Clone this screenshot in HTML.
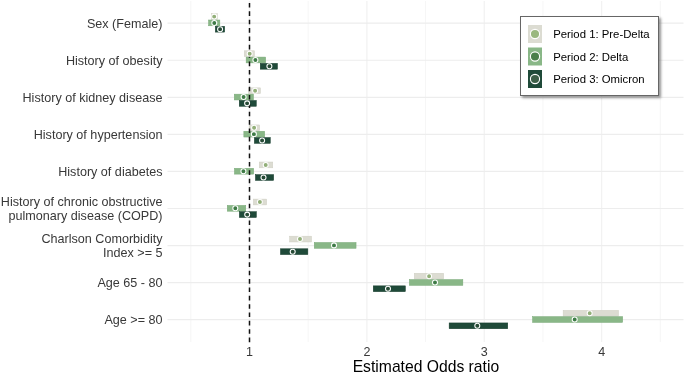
<!DOCTYPE html>
<html><head><meta charset="utf-8"><style>
html,body{margin:0;padding:0;background:#fff;}
body{width:685px;height:374px;overflow:hidden;position:relative;}
svg{position:absolute;left:0;top:0;will-change:transform;}
text{font-family:"Liberation Sans",sans-serif;}
.yl{font-size:12.6px;fill:#383838;text-anchor:end;}
.xt{font-size:12.5px;fill:#383838;text-anchor:middle;}
.xa{font-size:15.7px;fill:#000;text-anchor:middle;}
.lt{font-size:11.35px;fill:#000;}
#leg{position:absolute;left:520px;top:16px;width:137px;height:78px;border:1px solid #666;background:#fff;box-shadow:2px 2px 2.5px rgba(0,0,0,0.4);}
</style></head><body>
<svg width="685" height="374" viewBox="0 0 685 374">
<line x1="190.81" y1="1.0" x2="190.81" y2="342.0" stroke="#f6f6f6" stroke-width="1"/>
<line x1="308.19" y1="1.0" x2="308.19" y2="342.0" stroke="#f6f6f6" stroke-width="1"/>
<line x1="425.56" y1="1.0" x2="425.56" y2="342.0" stroke="#f6f6f6" stroke-width="1"/>
<line x1="542.92" y1="1.0" x2="542.92" y2="342.0" stroke="#f6f6f6" stroke-width="1"/>
<line x1="660.30" y1="1.0" x2="660.30" y2="342.0" stroke="#f6f6f6" stroke-width="1"/>
<line x1="249.50" y1="1.0" x2="249.50" y2="342.0" stroke="#f2f2f2" stroke-width="1.3"/>
<line x1="366.87" y1="1.0" x2="366.87" y2="342.0" stroke="#f2f2f2" stroke-width="1.3"/>
<line x1="484.24" y1="1.0" x2="484.24" y2="342.0" stroke="#f2f2f2" stroke-width="1.3"/>
<line x1="601.61" y1="1.0" x2="601.61" y2="342.0" stroke="#f2f2f2" stroke-width="1.3"/>
<line x1="167.5" y1="23.20" x2="683.5" y2="23.20" stroke="#ededed" stroke-width="1.2"/>
<line x1="167.5" y1="60.26" x2="683.5" y2="60.26" stroke="#ededed" stroke-width="1.2"/>
<line x1="167.5" y1="97.32" x2="683.5" y2="97.32" stroke="#ededed" stroke-width="1.2"/>
<line x1="167.5" y1="134.38" x2="683.5" y2="134.38" stroke="#ededed" stroke-width="1.2"/>
<line x1="167.5" y1="171.44" x2="683.5" y2="171.44" stroke="#ededed" stroke-width="1.2"/>
<line x1="167.5" y1="208.50" x2="683.5" y2="208.50" stroke="#ededed" stroke-width="1.2"/>
<line x1="167.5" y1="245.56" x2="683.5" y2="245.56" stroke="#ededed" stroke-width="1.2"/>
<line x1="167.5" y1="282.62" x2="683.5" y2="282.62" stroke="#ededed" stroke-width="1.2"/>
<line x1="167.5" y1="319.68" x2="683.5" y2="319.68" stroke="#ededed" stroke-width="1.2"/>
<rect x="211.25" y="13.70" width="6.10" height="5.8" fill="#dcdcd2" stroke="#cfcfc4" stroke-width="0.5"/>
<rect x="208.55" y="20.00" width="11.30" height="5.8" fill="#89b787" stroke="#78a877" stroke-width="0.5"/>
<rect x="215.35" y="26.30" width="9.30" height="5.8" fill="#1f4a39" stroke="#143a2a" stroke-width="0.5"/>
<rect x="244.25" y="50.78" width="10.20" height="5.8" fill="#dcdcd2" stroke="#cfcfc4" stroke-width="0.5"/>
<rect x="246.15" y="57.08" width="19.50" height="5.8" fill="#89b787" stroke="#78a877" stroke-width="0.5"/>
<rect x="260.25" y="63.38" width="17.20" height="5.8" fill="#1f4a39" stroke="#143a2a" stroke-width="0.5"/>
<rect x="248.55" y="87.86" width="11.90" height="5.8" fill="#dcdcd2" stroke="#cfcfc4" stroke-width="0.5"/>
<rect x="234.25" y="94.16" width="19.20" height="5.8" fill="#89b787" stroke="#78a877" stroke-width="0.5"/>
<rect x="239.25" y="100.46" width="17.00" height="5.8" fill="#1f4a39" stroke="#143a2a" stroke-width="0.5"/>
<rect x="249.15" y="124.94" width="10.50" height="5.8" fill="#dcdcd2" stroke="#cfcfc4" stroke-width="0.5"/>
<rect x="243.85" y="131.24" width="20.80" height="5.8" fill="#89b787" stroke="#78a877" stroke-width="0.5"/>
<rect x="254.35" y="137.54" width="15.90" height="5.8" fill="#1f4a39" stroke="#143a2a" stroke-width="0.5"/>
<rect x="259.25" y="162.02" width="13.50" height="5.8" fill="#dcdcd2" stroke="#cfcfc4" stroke-width="0.5"/>
<rect x="234.45" y="168.32" width="19.20" height="5.8" fill="#89b787" stroke="#78a877" stroke-width="0.5"/>
<rect x="255.45" y="174.62" width="18.20" height="5.8" fill="#1f4a39" stroke="#143a2a" stroke-width="0.5"/>
<rect x="253.35" y="199.10" width="13.30" height="5.8" fill="#dcdcd2" stroke="#cfcfc4" stroke-width="0.5"/>
<rect x="227.25" y="205.40" width="18.50" height="5.8" fill="#89b787" stroke="#78a877" stroke-width="0.5"/>
<rect x="239.35" y="211.70" width="17.00" height="5.8" fill="#1f4a39" stroke="#143a2a" stroke-width="0.5"/>
<rect x="289.65" y="236.18" width="21.90" height="5.8" fill="#dcdcd2" stroke="#cfcfc4" stroke-width="0.5"/>
<rect x="314.25" y="242.48" width="41.80" height="5.8" fill="#89b787" stroke="#78a877" stroke-width="0.5"/>
<rect x="280.45" y="248.78" width="27.40" height="5.8" fill="#1f4a39" stroke="#143a2a" stroke-width="0.5"/>
<rect x="414.25" y="273.26" width="29.40" height="5.8" fill="#dcdcd2" stroke="#cfcfc4" stroke-width="0.5"/>
<rect x="409.35" y="279.56" width="53.50" height="5.8" fill="#89b787" stroke="#78a877" stroke-width="0.5"/>
<rect x="373.25" y="285.86" width="32.10" height="5.8" fill="#1f4a39" stroke="#143a2a" stroke-width="0.5"/>
<rect x="563.15" y="310.34" width="55.40" height="5.8" fill="#dcdcd2" stroke="#cfcfc4" stroke-width="0.5"/>
<rect x="532.55" y="316.64" width="90.10" height="5.8" fill="#89b787" stroke="#78a877" stroke-width="0.5"/>
<rect x="449.15" y="322.94" width="58.60" height="5.8" fill="#1f4a39" stroke="#143a2a" stroke-width="0.5"/>
<line x1="249.5" y1="3.0" x2="249.5" y2="342.2" stroke="#111" stroke-width="1.5" stroke-dasharray="4.6 3.765"/>
<circle cx="214.2" cy="16.60" r="2.5" fill="#92af78" stroke="#fff" stroke-width="1.05"/>
<circle cx="214.3" cy="22.90" r="2.5" fill="#3e7b46" stroke="#fff" stroke-width="1.05"/>
<circle cx="220.1" cy="29.20" r="2.5" fill="#274b36" stroke="#fff" stroke-width="1.05"/>
<circle cx="249.7" cy="53.68" r="2.5" fill="#92af78" stroke="#fff" stroke-width="1.05"/>
<circle cx="255.4" cy="59.98" r="2.5" fill="#3e7b46" stroke="#fff" stroke-width="1.05"/>
<circle cx="269.4" cy="66.28" r="2.5" fill="#274b36" stroke="#fff" stroke-width="1.05"/>
<circle cx="255.1" cy="90.76" r="2.5" fill="#92af78" stroke="#fff" stroke-width="1.05"/>
<circle cx="243.6" cy="97.06" r="2.5" fill="#3e7b46" stroke="#fff" stroke-width="1.05"/>
<circle cx="247.1" cy="103.36" r="2.5" fill="#274b36" stroke="#fff" stroke-width="1.05"/>
<circle cx="254.1" cy="127.84" r="2.5" fill="#92af78" stroke="#fff" stroke-width="1.05"/>
<circle cx="253.9" cy="134.14" r="2.5" fill="#3e7b46" stroke="#fff" stroke-width="1.05"/>
<circle cx="262.1" cy="140.44" r="2.5" fill="#274b36" stroke="#fff" stroke-width="1.05"/>
<circle cx="265.7" cy="164.92" r="2.5" fill="#92af78" stroke="#fff" stroke-width="1.05"/>
<circle cx="243.4" cy="171.22" r="2.5" fill="#3e7b46" stroke="#fff" stroke-width="1.05"/>
<circle cx="263.5" cy="177.52" r="2.5" fill="#274b36" stroke="#fff" stroke-width="1.05"/>
<circle cx="259.9" cy="202.00" r="2.5" fill="#92af78" stroke="#fff" stroke-width="1.05"/>
<circle cx="235.3" cy="208.30" r="2.5" fill="#3e7b46" stroke="#fff" stroke-width="1.05"/>
<circle cx="247.2" cy="214.60" r="2.5" fill="#274b36" stroke="#fff" stroke-width="1.05"/>
<circle cx="300" cy="239.08" r="2.5" fill="#92af78" stroke="#fff" stroke-width="1.05"/>
<circle cx="334" cy="245.38" r="2.5" fill="#3e7b46" stroke="#fff" stroke-width="1.05"/>
<circle cx="292.7" cy="251.68" r="2.5" fill="#274b36" stroke="#fff" stroke-width="1.05"/>
<circle cx="429.1" cy="276.16" r="2.5" fill="#92af78" stroke="#fff" stroke-width="1.05"/>
<circle cx="435" cy="282.46" r="2.5" fill="#3e7b46" stroke="#fff" stroke-width="1.05"/>
<circle cx="388" cy="288.76" r="2.5" fill="#274b36" stroke="#fff" stroke-width="1.05"/>
<circle cx="589.7" cy="313.24" r="2.5" fill="#92af78" stroke="#fff" stroke-width="1.05"/>
<circle cx="574.7" cy="319.54" r="2.5" fill="#3e7b46" stroke="#fff" stroke-width="1.05"/>
<circle cx="477.3" cy="325.84" r="2.5" fill="#274b36" stroke="#fff" stroke-width="1.05"/>
<text x="162.5" y="27.70" class="yl">Sex (Female)</text>
<text x="162.5" y="64.78" class="yl">History of obesity</text>
<text x="162.5" y="101.86" class="yl">History of kidney disease</text>
<text x="162.5" y="138.94" class="yl">History of hypertension</text>
<text x="162.5" y="176.02" class="yl">History of diabetes</text>
<text x="162.5" y="206.40" class="yl">History of chronic obstructive</text>
<text x="162.5" y="220.00" class="yl">pulmonary disease (COPD)</text>
<text x="162.5" y="243.48" class="yl">Charlson Comorbidity</text>
<text x="162.5" y="257.08" class="yl">Index &gt;= 5</text>
<text x="162.5" y="287.26" class="yl">Age 65 - 80</text>
<text x="162.5" y="324.34" class="yl">Age &gt;= 80</text>
<text x="249.50" y="355.7" class="xt">1</text>
<text x="366.87" y="355.7" class="xt">2</text>
<text x="484.24" y="355.7" class="xt">3</text>
<text x="601.61" y="355.7" class="xt">4</text>
<text x="425.9" y="371.9" class="xa">Estimated Odds ratio</text>
</svg>
<div id="leg"></div>
<svg width="685" height="374" viewBox="0 0 685 374">
<rect x="528" y="25" width="14" height="18" fill="#dcdcd2"/>
<circle cx="535" cy="34" r="4.6" fill="#9ab87f" stroke="#fff" stroke-width="1.1"/>
<text x="553.2" y="38.2" class="lt">Period 1: Pre-Delta</text>
<rect x="528" y="47.5" width="14" height="18" fill="#89b787"/>
<circle cx="535" cy="56.5" r="4.6" fill="#4a7f4a" stroke="#fff" stroke-width="1.1"/>
<text x="553.2" y="60.8" class="lt">Period 2: Delta</text>
<rect x="528" y="70" width="14" height="18" fill="#1f4a39"/>
<circle cx="535" cy="79" r="4.6" fill="#3d5f48" stroke="#fff" stroke-width="1.1"/>
<text x="553.2" y="83.1" class="lt">Period 3: Omicron</text>
</svg>
</body></html>
